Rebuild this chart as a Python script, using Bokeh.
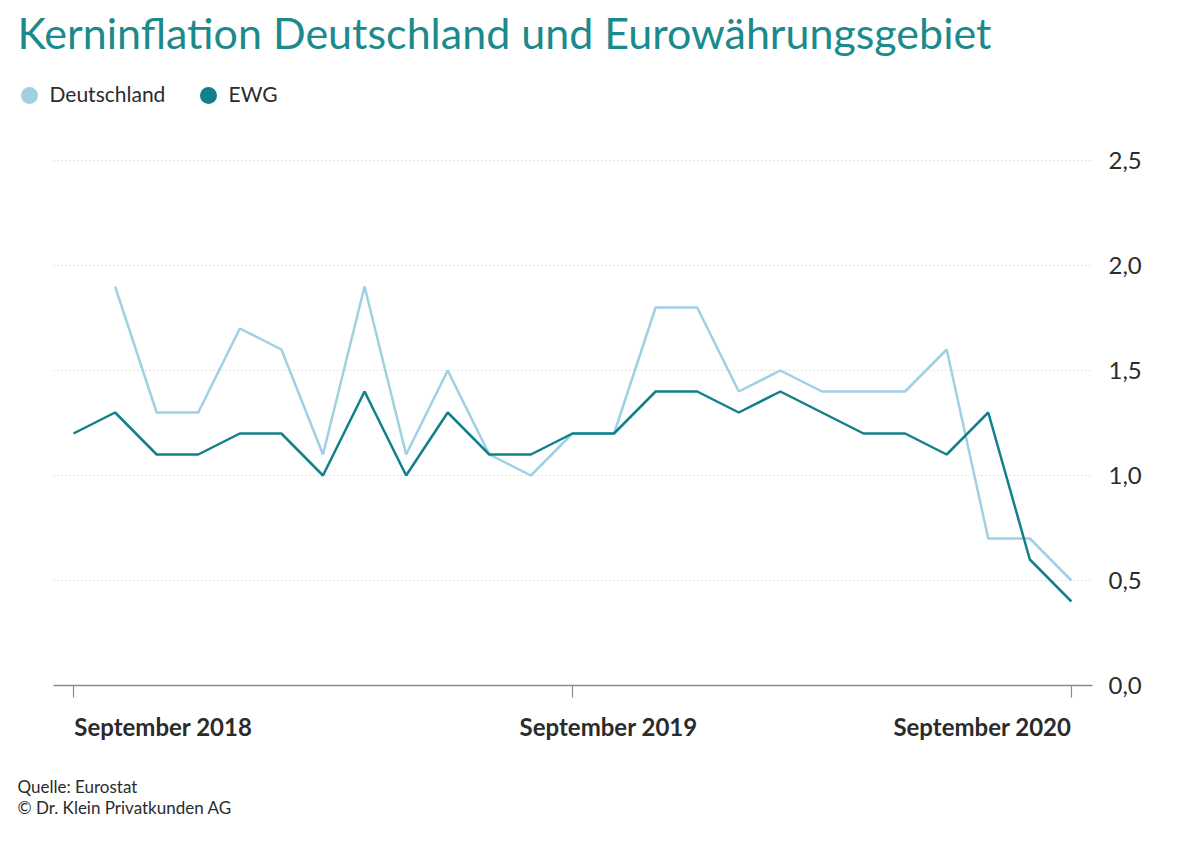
from bokeh.plotting import figure
from bokeh.models import ColumnDataSource, LinearAxis, FixedTicker, Range1d, Label, Grid
from bokeh.layouts import column
from bokeh.embed import file_html
from bokeh.resources import INLINE
import numpy as np

# ---- data ----
months = list(range(25))  # 0 = September 2018 ... 24 = September 2020
deutschland = [np.nan, 1.9, 1.3, 1.3, 1.7, 1.6, 1.1, 1.9, 1.1, 1.5, 1.1, 1.0, 1.2,
               1.2, 1.8, 1.8, 1.4, 1.5, 1.4, 1.4, 1.4, 1.6, 0.7, 0.7, 0.5]
ewg = [1.2, 1.3, 1.1, 1.1, 1.2, 1.2, 1.0, 1.4, 1.0, 1.3, 1.1, 1.1, 1.2,
       1.2, 1.4, 1.4, 1.3, 1.4, 1.3, 1.2, 1.2, 1.1, 1.3, 0.6, 0.4]
x_tick_pos = [0, 12, 24]
x_label_pos = [2.16, 12.87, 21.86]
x_tick_labels = ["September 2018", "September 2019", "September 2020"]
y_ticks = [0.0, 0.5, 1.0, 1.5, 2.0, 2.5]
y_tick_labels = ["0,0", "0,5", "1,0", "1,5", "2,0", "2,5"]
title_text = "Kerninflation Deutschland und Eurowährungsgebiet"
series_names = ["Deutschland", "EWG"]
source_lines = ["Quelle: Eurostat", "© Dr. Klein Privatkunden AG"]

C_DE = "#9fd0e4"
C_EWG = "#12808a"
TITLE_C = "#1b8a8c"
TXT = "#2b2b2b"
FONT = "Lato"

W = 1200
TOP_H = 139
MAIN_H = 621
BOT_H = 849 - TOP_H - MAIN_H
left, right = 53, 108
px_per_x = 41.58
px_per_y = 210.0
frame_h = 685 - TOP_H
x0 = -(73 - left) / px_per_x
x1 = x0 + (W - left - right) / px_per_x
y1 = frame_h / px_per_y


def blank(h):
    f = figure(width=W, height=h, output_backend="svg", toolbar_location=None,
               x_range=Range1d(0, W), y_range=Range1d(h, 0),
               min_border=0, x_axis_location=None, y_axis_location=None)
    f.outline_line_color = None
    f.xgrid.visible = False
    f.ygrid.visible = False
    f.frame_align = False
    return f


def txt(fig, x, y, s, size, color=TXT, style="normal"):
    fig.add_layout(Label(x=x, y=y, text=s, text_font=FONT, text_font_size=f"{size}px",
                         text_font_style=style, text_color=color,
                         text_align="left", text_baseline="alphabetic"))


# ---- top: title and legend ----
top = blank(TOP_H)
txt(top, 17, 32, title_text, 43, TITLE_C)
top.scatter(x=[29, 208], y=[95, 95], size=17, fill_color=[C_DE, C_EWG], line_color=None)
txt(top, 49, 93, series_names[0], 21)
txt(top, 228, 93, series_names[1], 21)

# ---- main chart ----
p = figure(width=W, height=MAIN_H, output_backend="svg", toolbar_location=None,
           x_range=Range1d(x0, x1), y_range=Range1d(0, y1),
           min_border_left=left, min_border_right=right,
           min_border_top=0, min_border_bottom=MAIN_H - frame_h,
           y_axis_location=None, x_axis_location=None)
p.outline_line_color = None
p.xgrid.visible = False
p.ygrid.visible = False
p.frame_align = False

xa = LinearAxis(ticker=FixedTicker(ticks=x_label_pos, minor_ticks=x_tick_pos))
xa.major_label_overrides = {t: l for t, l in zip(x_label_pos, x_tick_labels)}
xa.axis_line_color = "#8a8a8a"
xa.axis_line_width = 1.5
xa.major_tick_line_color = None
xa.major_tick_in = 0
xa.major_tick_out = 0
xa.minor_tick_line_color = "#8a8a8a"
xa.minor_tick_line_width = 1.2
xa.minor_tick_in = 0
xa.minor_tick_out = 12
xa.major_label_standoff = 14
xa.major_label_text_font = FONT
xa.major_label_text_font_size = "24px"
xa.major_label_text_font_style = "bold"
xa.major_label_text_color = TXT
p.add_layout(xa, "below")

ya = LinearAxis(ticker=FixedTicker(ticks=y_ticks))
ya.major_label_overrides = {t: l for t, l in zip(y_ticks, y_tick_labels)}
ya.axis_line_color = None
ya.major_tick_line_color = None
ya.minor_tick_line_color = None
ya.major_tick_in = 0
ya.major_tick_out = 0
ya.major_label_standoff = 16
ya.major_label_text_font = FONT
ya.major_label_text_font_size = "24px"
ya.major_label_text_color = TXT
p.add_layout(ya, "right")

g = Grid(dimension=1, ticker=FixedTicker(ticks=y_ticks[1:]))
g.grid_line_color = "#c4c4c4"
g.grid_line_dash = "1 3"
g.grid_line_width = 1
p.add_layout(g)

src = ColumnDataSource(dict(x=months, de=deutschland, ewg=ewg))
p.line("x", "de", source=src, line_color=C_DE, line_width=2.5)
p.line("x", "ewg", source=src, line_color=C_EWG, line_width=2.5)

# ---- bottom: source ----
bot = blank(BOT_H)
txt(bot, 17, 786 - 760, source_lines[0], 17)
txt(bot, 17, 807 - 760, source_lines[1], 17)

layout = column(top, p, bot, spacing=0)
open("out.html", "w").write(file_html(layout, INLINE))
